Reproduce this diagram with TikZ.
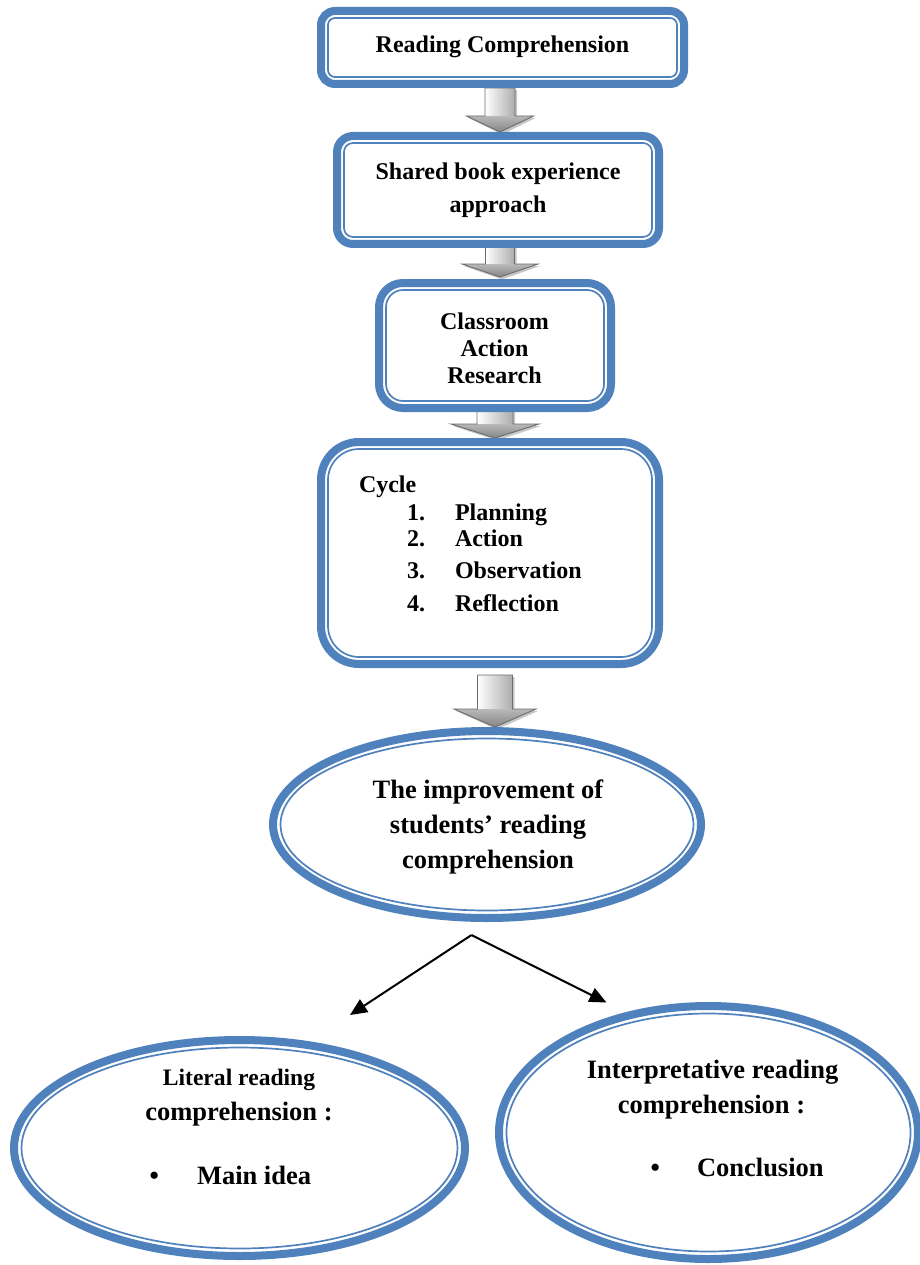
\documentclass[tikz,border=0pt]{standalone}
\usepackage{fontspec}
\setmainfont{Liberation Serif}
\usetikzlibrary{arrows.meta,shapes.geometric}
\definecolor{bblue}{HTML}{4F81BD}
\definecolor{agray}{HTML}{7F7F7F}
% block arrow: #1 cx, #2 shaft half width, #3 head half width, #4 y top, #5 y head start, #6 y tip
\newcommand{\blkarrow}[6]{%
  \fill[black,opacity=0.22] ({#1-#2+2},{#4+2}) -- ({#1+#2+2},{#4+2}) -- ({#1+#2+2},{#5+2}) -- ({#1+#3+2},{#5+2}) -- ({#1+2},{#6+2.5}) -- ({#1-#3+2},{#5+2}) -- ({#1-#2+2},{#5+2}) -- cycle;
  \shade[left color=white, right color=agray!65] ({#1-#2},#4) rectangle ({#1+#2},#5);
  \shade[top color=agray!55, bottom color=agray!95] ({#1-#3},#5) -- ({#1+#3},#5) -- (#1,#6) -- cycle;
  \draw[agray!85!black, line width=0.9, line join=miter] ({#1-#2},#4) -- ({#1+#2},#4) -- ({#1+#2},#5) -- ({#1+#3},#5) -- (#1,#6) -- ({#1-#3},#5) -- ({#1-#2},#5) -- cycle;
}
\begin{document}
\begin{tikzpicture}[x=1pt,y=-1pt,
  bbox/.style={draw=bblue, line width=8, rounded corners=#1, fill=white, inner sep=0, outer sep=0},
  bbox/.default=14,
  bell/.style={ellipse, draw=bblue, line width=8, fill=white, inner sep=0, outer sep=0},
  thinline/.style={draw=bblue, line width=1.7},
  txt/.style={font=\fontsize{24}{24}\selectfont\bfseries, inner sep=0, outer sep=0, anchor=base},
  txtw/.style={txt, anchor=base west},
  btxt/.style={font=\fontsize{26.5}{26.5}\selectfont\bfseries, inner sep=0, outer sep=0, anchor=base},
  btxtw/.style={btxt, anchor=base west},
  conn/.style={line width=2, -{Triangle[length=17pt,width=15pt]}}
]
\useasboundingbox (0,0) rectangle (920,1265);
\fill[white] (0,0) rectangle (920,1265);

% block arrows (drawn first, boxes cover the shaft tops)
\blkarrow{500}{15}{33.5}{88}{116}{132}
\blkarrow{500}{14.5}{38}{240}{264}{277}
\blkarrow{495}{18}{44}{404}{424}{438}
\blkarrow{495}{17.5}{41}{675}{709}{727}

% boxes
\node[bbox=14, minimum width=363, minimum height=73] (b1) at (502.5,47.5) {};
\draw[thinline, rounded corners=7] ([shift={(7,7)}]b1.north west) rectangle ([shift={(-7,-7)}]b1.south east);
\node[txt] (t1) at (502.5,53) {Reading Comprehension};

\node[bbox=16, minimum width=322, minimum height=108] (b2) at (498,190) {};
\draw[thinline, rounded corners=9] ([shift={(7,7)}]b2.north west) rectangle ([shift={(-7,-7)}]b2.south east);
\node[txt] (t2a) at (498,180) {Shared book experience};
\node[txt] (t2b) at (498,212.3) {approach};

\node[bbox=24, minimum width=232, minimum height=125] (b3) at (495,345.5) {};
\draw[thinline, rounded corners=17] ([shift={(7,7)}]b3.north west) rectangle ([shift={(-7,-7)}]b3.south east);
\node[txt] (t3a) at (494.5,329.3) {Classroom};
\node[txt] (t3b) at (494.5,356) {Action};
\node[txt] (t3c) at (494.5,383.3) {Research};

\node[bbox=38, minimum width=338, minimum height=222] (b4) at (490,553) {};
\draw[thinline, rounded corners=31] ([shift={(7,7)}]b4.north west) rectangle ([shift={(-7,-7)}]b4.south east);
\node[txtw] (c0) at (359,492.7) {Cycle};
\node[txtw] (n1) at (407,520) {1.};
\node[txtw] (c1) at (455,520) {Planning};
\node[txtw] (n2) at (407,546.7) {2.};
\node[txtw] (c2) at (455,546.7) {Action};
\node[txtw] (n3) at (407,578.3) {3.};
\node[txtw] (c3) at (455,578.3) {Observation};
\node[txtw] (n4) at (407,611) {4.};
\node[txtw] (c4) at (455,611) {Reflection};

% ellipses
\node[bell, minimum width=428, minimum height=187] (e1) at (487,824.5) {};
\draw[thinline] (e1.center) ellipse [x radius=206.5, y radius=86];
\node[btxt] (e1a) at (488,798.3) {The improvement of};
\node[btxt] (e1b) at (488,833.3) {students’ reading};
\node[btxt] (e1c) at (488,868.3) {comprehension};

\node[bell, minimum width=451, minimum height=216] (eL) at (239.5,1148) {};
\draw[thinline] (eL.center) ellipse [x radius=218, y radius=100.5];
\node[txt, font=\fontsize{23.6}{23.6}\selectfont\bfseries] (eLa) at (239,1085) {Literal reading};
\node[btxt] (eLb) at (239,1120) {comprehension :};
\node[btxtw] (eLd) at (149.5,1184) {•};
\node[btxtw] (eLc) at (197,1184) {Main idea};

\node[bell, minimum width=419, minimum height=253] (eR) at (708.5,1132.5) {};
\draw[thinline] (eR.center) ellipse [x radius=202, y radius=119];
\node[btxt] (eRa) at (712.5,1078.3) {Interpretative reading};
\node[btxt] (eRb) at (711.5,1113.3) {comprehension :};
\node[btxtw] (eRd) at (650.5,1176) {•};
\node[btxtw] (eRc) at (697,1176) {Conclusion};

% connectors
\coordinate (split) at (471.5,935);
\coordinate (tipL) at (350,1015);
\coordinate (tipR) at (606.5,1002.5);
\draw[conn] (split) -- (tipL);
\draw[conn] (split) -- (tipR);
\end{tikzpicture}
\end{document}
